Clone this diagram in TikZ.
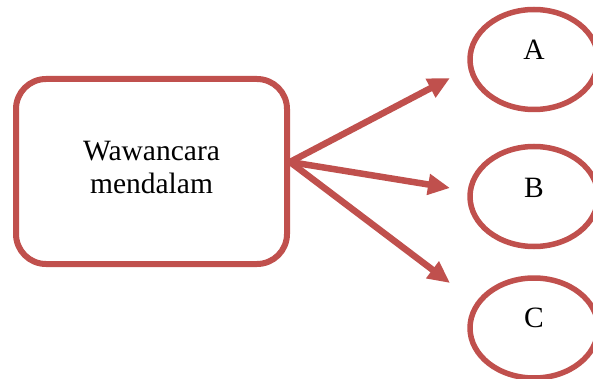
\documentclass[tikz,border=0pt]{standalone}
\usepackage{fontspec}
\setmainfont{Liberation Serif}
\usetikzlibrary{arrows.meta,shapes.geometric}
\definecolor{accred}{HTML}{C0504D}
\begin{document}
\begin{tikzpicture}[x=1pt,y=-1pt,
  boxshape/.style={draw=accred,line width=6pt,rounded corners=30pt,minimum width=271pt,minimum height=185pt,inner sep=0pt},
  ell/.style={draw=accred,ellipse,line width=5.5pt,minimum width=128pt,minimum height=100pt,inner sep=0pt},
  lbl/.style={font=\fontsize{29.5}{33}\selectfont,align=center,inner sep=0pt},
  arr/.style={draw=accred,line width=6.5pt,-{Triangle[length=22pt,width=20pt]}}]
\useasboundingbox (0,0) rectangle (593,379);
\fill[white] (0,0) rectangle (593,379);
\node[boxshape] (box) at (151.5,171.5) {};
\node[lbl] (boxtext) at (151.5,167) {Wawancara\\mendalam};
\node[ell] (A) at (534,59.5) {};
\node[ell] (B) at (534,196.5) {};
\node[ell] (C) at (534,328) {};
\node[lbl] (la) at (534,50) {A};
\node[lbl] (lb) at (534,188) {B};
\node[lbl] (lc) at (534,318) {C};
\coordinate (s) at (290,162);
\coordinate (ta) at (450,78);
\coordinate (tb) at (450,188);
\coordinate (tc) at (450,283);
\draw[arr] (s) -- (ta);
\draw[arr] (s) -- (tb);
\draw[arr] (s) -- (tc);
\end{tikzpicture}
\end{document}
